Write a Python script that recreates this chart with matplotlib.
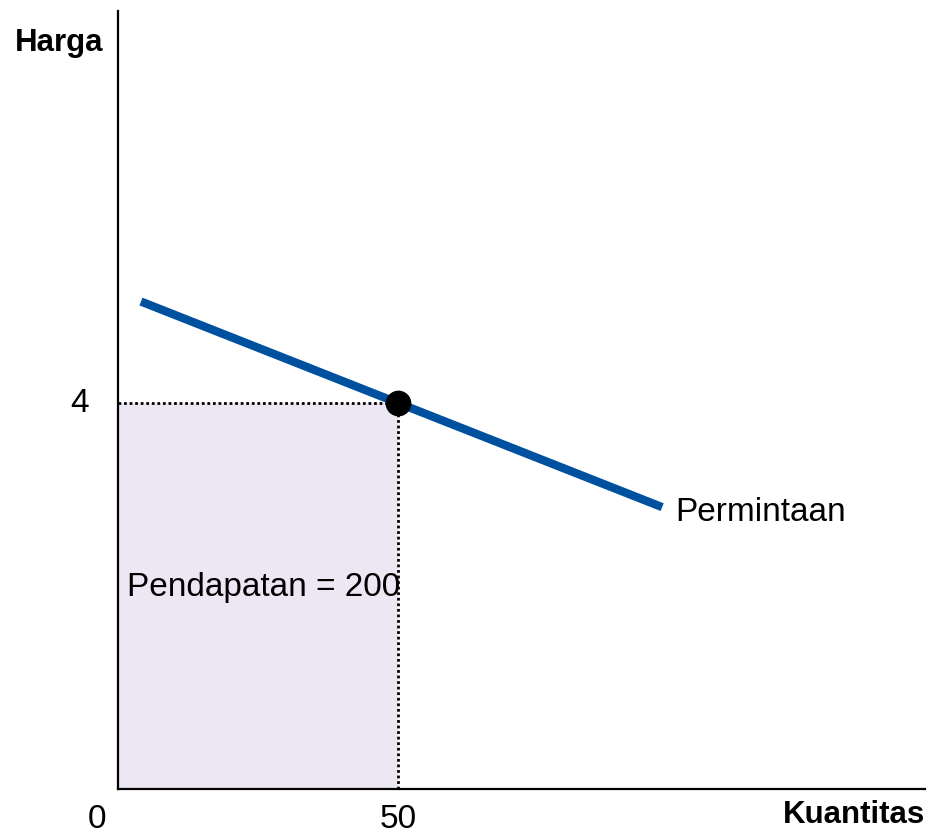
import matplotlib
matplotlib.use("Agg")
import matplotlib.pyplot as plt
from matplotlib.patches import Rectangle

plt.rcParams['font.family'] = ['Liberation Sans', 'DejaVu Sans']

# Data
demand_q = [4.1, 97.1]
demand_p = [5.05, 2.92]
point_q = 50
point_p = 4
revenue = 200
x_tick_labels = ["0", "50"]
y_tick_labels = ["4"]

W, H = 930, 837
fig = plt.figure(figsize=(W / 100, H / 100), dpi=100)
ax = fig.add_axes([118 / W, 47 / H, (925 - 118) / W, (790 - 12) / H])
ax.set_xlim(0, 144)
ax.set_ylim(0, 8.06)
for s in ['top', 'right']:
    ax.spines[s].set_visible(False)
for s in ['left', 'bottom']:
    ax.spines[s].set_linewidth(1.6)
    ax.spines[s].set_color('black')
ax.set_xticks([])
ax.set_yticks([])

# revenue rectangle
ax.add_patch(Rectangle((0, 0), point_q, point_p, facecolor='#EDE7F3', edgecolor='none', zorder=1))
ax.plot([0, point_q], [point_p, point_p], color='black', linestyle=(0, (1, 1)), lw=2, zorder=2)
ax.plot([point_q, point_q], [0, point_p], color='black', linestyle=(0, (1, 1)), lw=2, zorder=2)

# demand line
ax.plot(demand_q, demand_p, color='#0050A0', lw=6, solid_capstyle='butt', zorder=3)
ax.plot([point_q], [point_p], 'o', color='black', ms=17.5, zorder=4)

fs = 24
ax.text(1.6, 2.1, f"Pendapatan = {revenue}", fontsize=fs, ha='left', va='center', zorder=5)
ax.text(99.5, 2.87, "Permintaan", fontsize=fs, ha='left', va='center')

# tick labels
ax.text(-3.8, -0.31, x_tick_labels[0], fontsize=fs, ha='center', va='center', clip_on=False)
ax.text(point_q, -0.31, x_tick_labels[1], fontsize=fs, ha='center', va='center', clip_on=False)
ax.text(-6.8, point_p, y_tick_labels[0], fontsize=fs, ha='center', va='center', clip_on=False)

fig.text(59 / W, 1 - 43 / H, "Harga", fontsize=22.5, fontweight='bold', ha='center', va='center')
fig.text(925 / W, 1 - 815 / H, "Kuantitas", fontsize=22.5, fontweight='bold', ha='right', va='center')

fig.savefig("out.png", dpi=100, facecolor='white')
